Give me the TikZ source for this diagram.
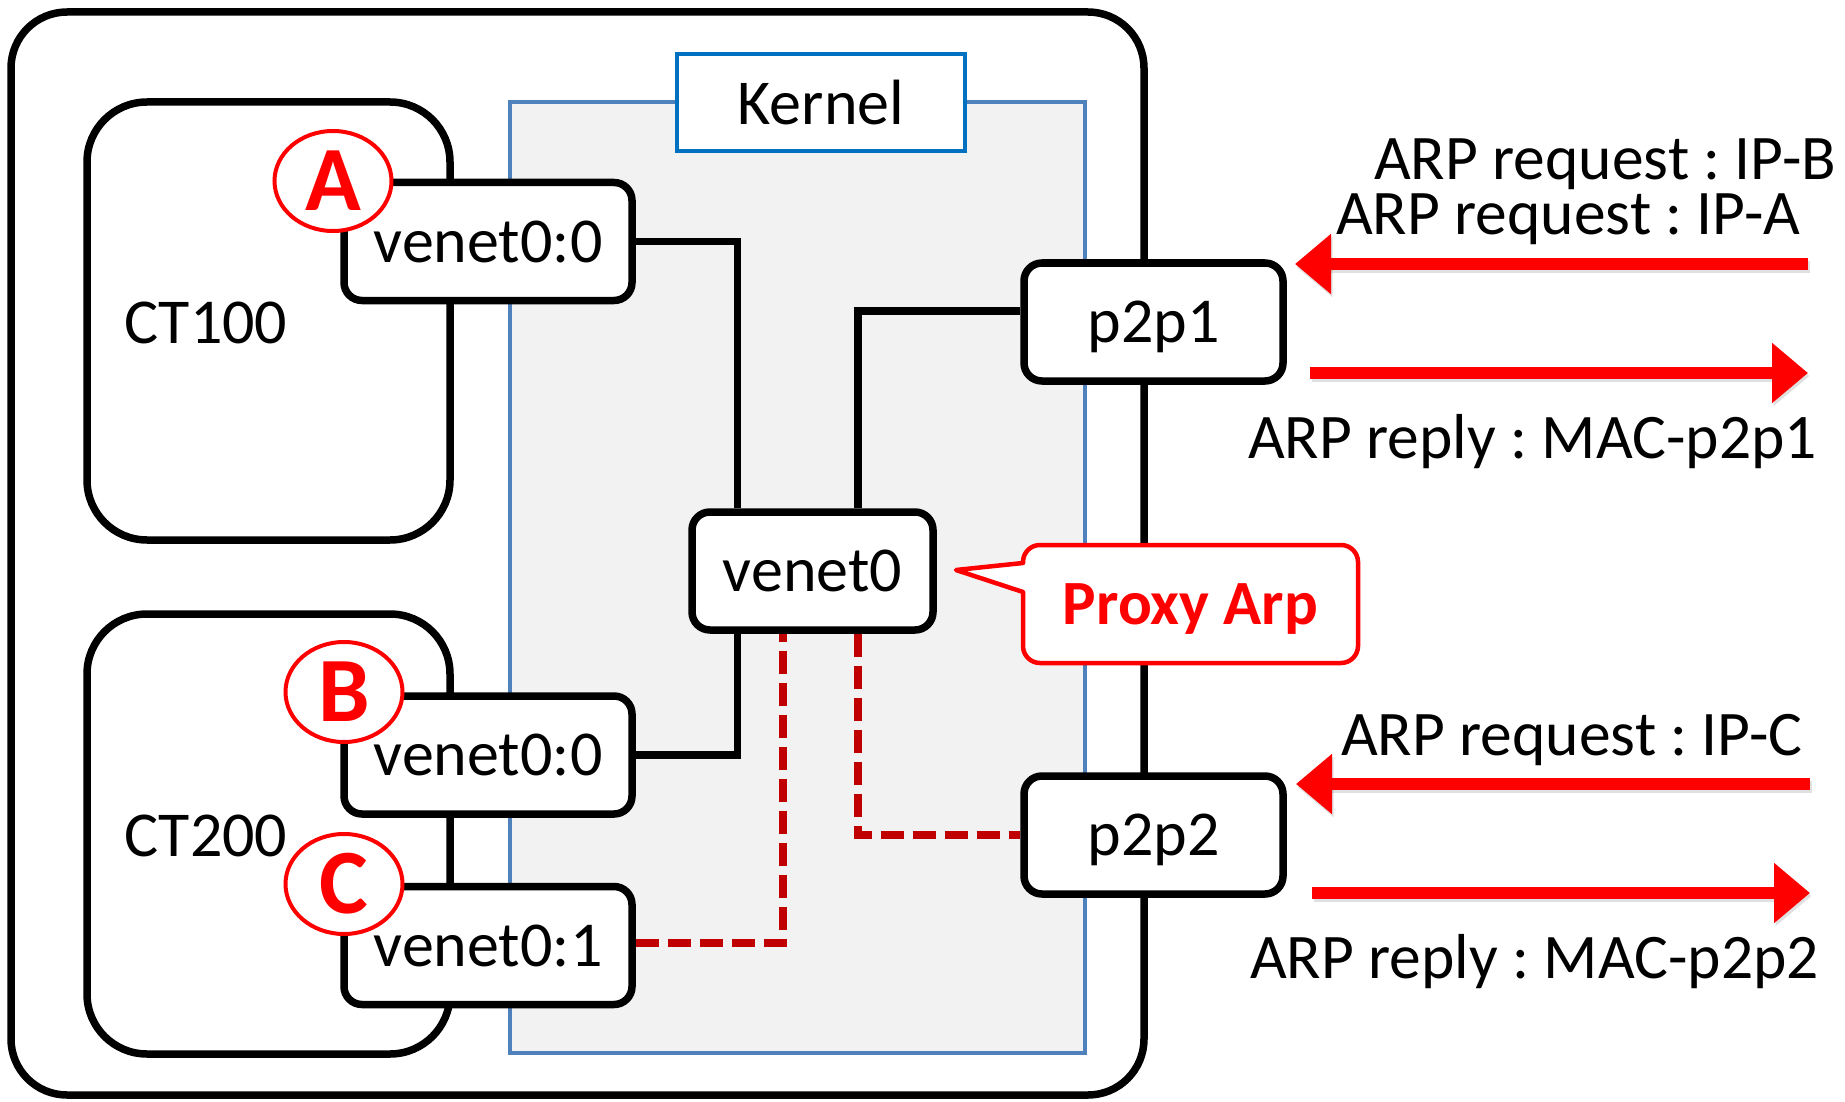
\documentclass[tikz,border=0pt]{standalone}
\usepackage{fontspec}
\setmainfont{Carlito}
\frenchspacing
\usetikzlibrary{arrows.meta,shapes.geometric,calc}
\definecolor{kfill}{HTML}{F2F2F2}
\definecolor{kedge}{HTML}{4F81BD}
\definecolor{kblue}{HTML}{0070C0}
\definecolor{dred}{HTML}{C00000}
\definecolor{alert}{HTML}{FF0000}

\begin{document}
\begin{tikzpicture}[x=1pt,y=-1pt,
  txt/.style={font=\fontsize{64}{72}\selectfont},
  hostbox/.style={draw=black, line width=7.5pt, rounded corners=56pt, fill=white, inner sep=0pt},
  ctbox/.style={draw=black, line width=7.5pt, rounded corners=60pt, fill=white, inner sep=0pt},
  ifbox/.style={draw=black, line width=7.5pt, rounded corners=18pt, fill=white, inner sep=0pt,
                minimum height=118pt, text depth=0pt, txt},
  kernelbox/.style={draw=kedge, line width=3.5pt, fill=kfill, inner sep=0pt},
  kernellbl/.style={draw=kblue, line width=3.5pt, fill=white, inner sep=0pt, txt},
  addrmark/.style={ellipse, draw=alert, line width=4pt, fill=white, inner sep=0pt,
                   minimum width=117pt, minimum height=100pt, text=alert,
                   font=\fontsize{92}{100}\selectfont\bfseries},
  link/.style={draw=black, line width=7.5pt},
  proxylink/.style={draw=dred, line width=7.5pt, dash pattern=on 23pt off 9pt},
  arp/.style={draw=alert, line width=12pt, -{Triangle[length=36pt,width=58pt]}},
  arpshade/.style={draw=black, opacity=0.12, line width=12pt, -{Triangle[length=36pt,width=58pt]},
                   transform canvas={shift={(1.5pt,-3pt)}}},
  arptext/.style={font=\fontsize{63.5}{72}\selectfont, anchor=base west, inner sep=0pt},
  calloutbox/.style={draw=alert, line width=4.5pt, rounded corners=17pt, fill=white, inner sep=0pt,
                     text=alert, text depth=0pt, font=\fontsize{63}{70}\selectfont\bfseries},
]
\useasboundingbox (0,0) rectangle (1845,1102);

% host frame and kernel area
\node[hostbox, minimum width=1133pt, minimum height=1083pt] (host) at (577.5,553.5) {};
\node[kernelbox, minimum width=575pt, minimum height=951pt] (kern) at (797.5,577.5) {};
\node[kernellbl, minimum width=288pt, minimum height=97pt] (kernlbl) at (821,102.5) {Kernel};

% containers
\node[ctbox, minimum width=363pt, minimum height=438pt] (ct100) at (268.5,321) {};
\node[ctbox, minimum width=363pt, minimum height=440pt] (ct200) at (268.5,834) {};
\node[txt, inner sep=0pt] (ct100lbl) at (206,323) {CT100};
\node[txt, inner sep=0pt] (ct200lbl) at (206,836) {CT200};

% container interfaces
\node[ifbox, minimum width=288pt] (v00a) at (488,241.5) {venet0:0};
\node[ifbox, minimum width=288pt] (v00b) at (488,755) {venet0:0};
\node[ifbox, minimum width=288pt] (v01c) at (488,945.5) {venet0:1};

% address markers
\node[addrmark] (mA) at (333,181) {A};
\node[addrmark] (mB) at (344,692) {B};
\node[addrmark] (mC) at (344,884) {C};

% host interfaces
\node[ifbox, minimum width=241pt] (vn0) at (812.5,571) {venet0};
\node[ifbox, minimum width=259pt] (p2p1) at (1153.5,322) {p2p1};
\node[ifbox, minimum width=259pt] (p2p2) at (1153.5,835) {p2p2};

% wiring
\coordinate (j1) at (737.5,241.5);
\coordinate (j2) at (858,311);
\coordinate (dj1) at (783,943);
\coordinate (dj2) at (858,835);
\draw[link] (v00a.east) -- (j1) -- (j1 |- vn0.north);
\draw[link] (j2 |- vn0.north) -- (j2) -- (j2 -| p2p1.west);
\draw[link] (v00b.east) -| (j1 |- vn0.south);
\draw[proxylink] (v01c.east |- dj1) -- (dj1) -- (dj1 |- vn0.south);
\draw[proxylink] (dj2 |- vn0.south) -- (dj2) -- (p2p2.west);

% proxy arp callout
\node[calloutbox, minimum width=335pt, minimum height=118pt] (proxy) at (1190.5,604) {Proxy Arp};
\coordinate (ptip) at (956,570);
\coordinate (pb1) at (1023,563);
\coordinate (pb2) at (1023,592);
\fill[white] (pb1) -- (ptip) -- (pb2) -- ($(pb2)+(4,0)$) -- ($(pb1)+(4,0)$) -- cycle;
\draw[alert, line width=4.5pt, line join=round, line cap=round] (pb1) -- (ptip) -- (pb2);

% ARP traffic
\coordinate (a1s) at (1808,264);
\coordinate (a2e) at (1808,373);
\coordinate (a3s) at (1810,784);
\coordinate (a4e) at (1810,893);
\coordinate (a1e) at (1295,264);
\coordinate (a2s) at (1310,373);
\coordinate (a3e) at (1296,784);
\coordinate (a4s) at (1312,893);
\draw[arpshade] (a1s) -- (a1e);
\draw[arpshade] (a2s) -- (a2e);
\draw[arpshade] (a3s) -- (a3e);
\draw[arpshade] (a4s) -- (a4e);
\draw[arp] (a1s) -- (a1e);
\draw[arp] (a2s) -- (a2e);
\draw[arp] (a3s) -- (a3e);
\draw[arp] (a4s) -- (a4e);

\node[arptext] (reqB) at (1374,180) {ARP request : IP-B};
\node[arptext] (reqA) at (1336,235) {ARP request : IP-A};
\node[arptext] (rep1) at (1248,458) {ARP reply : MAC-p2p1};
\node[arptext] (reqC) at (1341,755) {ARP request : IP-C};
\node[arptext] (rep2) at (1250,978) {ARP reply : MAC-p2p2};
\end{tikzpicture}
\end{document}
